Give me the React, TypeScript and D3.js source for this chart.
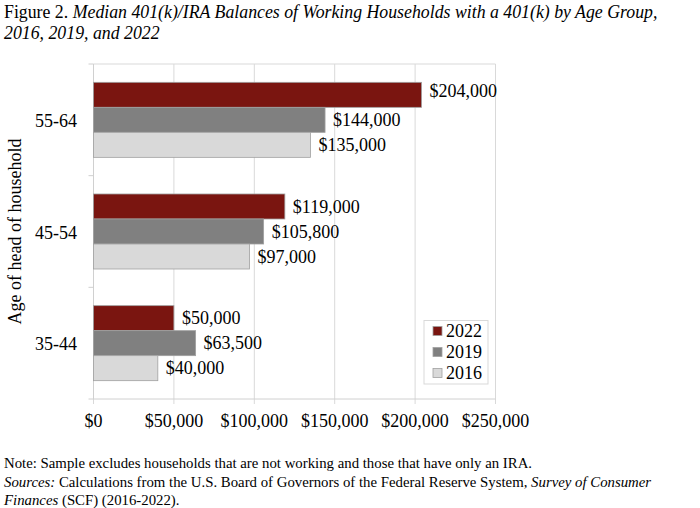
import * as d3 from "d3";
import React from "react";

// age groups, top to bottom
const ageGroups = ["55-64", "45-54", "35-44"];
const years = ["2022", "2019", "2016"];
const balances2022 = [204000, 119000, 50000];
const balances2019 = [144000, 105800, 63500];
const balances2016 = [135000, 97000, 40000];
const xTicks = [0, 50000, 100000, 150000, 200000, 250000];

const seriesByYear: Record<string, number[]> = {
  "2022": balances2022,
  "2019": balances2019,
  "2016": balances2016,
};

const colors: Record<string, string> = {
  "2022": "#7a1510",
  "2019": "#808080",
  "2016": "#d9d9d9",
};

const W = 700;
const H = 508;
const plot = { left: 93.5, right: 495.5, top: 64, bottom: 399 };
const font = "'Liberation Serif', 'Times New Roman', serif";
const money = (v: number) => "$" + d3.format(",")(v);

const App: React.FC = () => {
  const x = d3.scaleLinear().domain([0, 250000]).range([plot.left, plot.right]);
  const y0 = d3.scaleBand<string>().domain(ageGroups).range([plot.top, plot.bottom]);
  const y1 = d3
    .scaleBand<string>()
    .domain(years)
    .range([0, y0.bandwidth()])
    .paddingInner(0)
    .paddingOuter(0.733);

  const bandEdges = [plot.top, ...ageGroups.map((g) => (y0(g) ?? 0) + y0.bandwidth())];

  return (
    <svg
      width={W}
      height={H}
      style={{ position: "absolute", left: 0, top: 0, background: "#fff" }}
      fontFamily={font}
    >
      {/* title */}
      <text x={4} y={18} fontSize={17.8} fill="#000">
        Figure 2.{" "}
        <tspan fontStyle="italic">
          Median 401(k)/IRA Balances of Working Households with a 401(k) by Age Group,
        </tspan>
      </text>
      <text x={4} y={39} fontSize={17.8} fontStyle="italic" fill="#000">
        2016, 2019, and 2022
      </text>

      {/* gridlines */}
      {xTicks.map((t) => (
        <line
          key={"g" + t}
          x1={x(t)}
          x2={x(t)}
          y1={plot.top}
          y2={plot.bottom + 5}
          stroke="#d9d9d9"
          strokeWidth={1}
        />
      ))}
      <line x1={plot.left} x2={plot.right} y1={plot.top} y2={plot.top} stroke="#d9d9d9" />
      <line x1={plot.left} x2={plot.right} y1={plot.bottom} y2={plot.bottom} stroke="#d0d0d0" />
      <line x1={plot.left} x2={plot.left} y1={plot.top} y2={plot.bottom} stroke="#d0d0d0" />
      {bandEdges.map((e, i) => (
        <line key={"t" + i} x1={plot.left - 5} x2={plot.left} y1={e} y2={e} stroke="#d0d0d0" />
      ))}

      {/* bars */}
      {ageGroups.map((g, gi) => (
        <g key={g} transform={`translate(0,${y0(g)})`}>
          {years.map((yr) => {
            const v = seriesByYear[yr][gi];
            const yy = y1(yr) ?? 0;
            // label that reaches the plot edge gets nudged up, like the original
            const nudge = x(v) + 75 > plot.right ? -4 : 0;
            return (
              <g key={yr}>
                <rect
                  x={x(0)}
                  y={yy}
                  width={x(v) - x(0)}
                  height={y1.bandwidth()}
                  fill={colors[yr]}
                  stroke="#a0a0a0"
                  strokeWidth={0.8}
                />
                <text
                  x={x(v) + 8}
                  y={yy + y1.bandwidth() / 2 + nudge}
                  dy="0.35em"
                  fontSize={18}
                  fill="#000"
                >
                  {money(v)}
                </text>
              </g>
            );
          })}
          <text
            x={77}
            y={y0.bandwidth() / 2 + 1}
            dy="0.35em"
            textAnchor="end"
            fontSize={18}
            fill="#000"
          >
            {g}
          </text>
        </g>
      ))}

      {/* x tick labels */}
      {xTicks.map((t) => (
        <text key={"l" + t} x={x(t)} y={427} textAnchor="middle" fontSize={18} fill="#000">
          {money(t)}
        </text>
      ))}

      {/* y axis title */}
      <text
        transform={`translate(21,${(plot.top + plot.bottom) / 2}) rotate(-90)`}
        textAnchor="middle"
        fontSize={18}
        fill="#000"
      >
        Age of head of household
      </text>

      {/* legend */}
      <rect x={424} y={320.5} width={64} height={63.5} fill="#fff" stroke="#d9d9d9" />
      {years.map((yr, i) => (
        <g key={"lg" + yr} transform={`translate(433,${331 + i * 21})`}>
          <rect x={0} y={-4.5} width={9} height={9} fill={colors[yr]} stroke="#a0a0a0" strokeWidth={0.8} />
          <text x={13} y={0} dy="0.35em" fontSize={18} fill="#000">
            {yr}
          </text>
        </g>
      ))}

      {/* notes */}
      <text x={4} y={468} fontSize={14.8} fill="#000">
        Note: Sample excludes households that are not working and those that have only an IRA.
      </text>
      <text x={4} y={487} fontSize={14.8} fill="#000">
        <tspan fontStyle="italic">Sources:</tspan> Calculations from the U.S. Board of Governors of
        the Federal Reserve System, <tspan fontStyle="italic">Survey of Consumer</tspan>
      </text>
      <text x={4} y={505} fontSize={14.8} fill="#000">
        <tspan fontStyle="italic">Finances</tspan> (SCF) (2016-2022).
      </text>
    </svg>
  );
};

export default App;
